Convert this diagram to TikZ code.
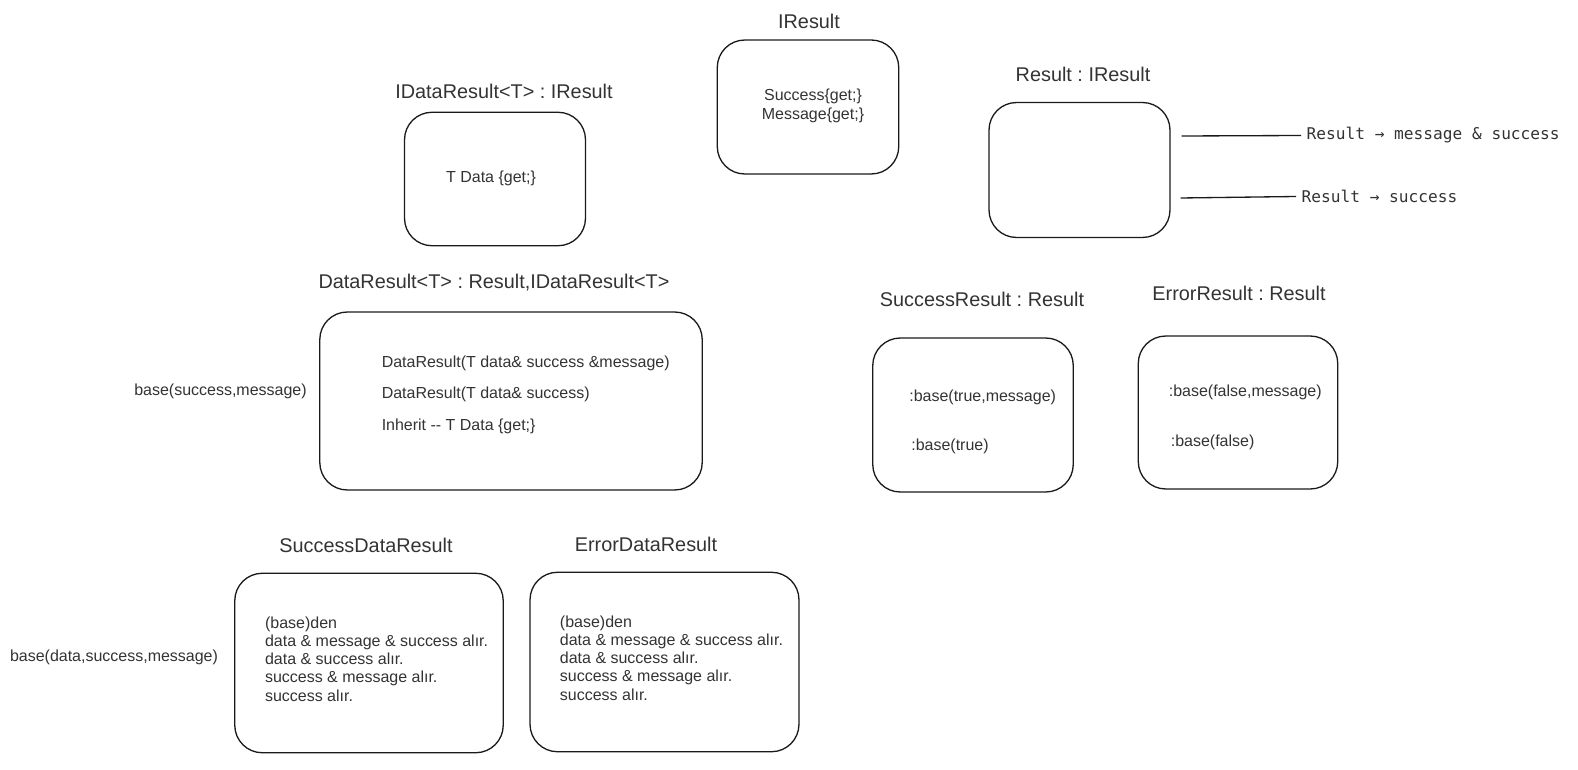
\documentclass[tikz,border=0pt]{standalone}
\usepackage{fontspec}
\setmainfont{Liberation Sans}
\newfontfamily\codefont{DejaVu Sans Mono}
\usepackage{tikz}
\usetikzlibrary{positioning}
\definecolor{BoxLine}{HTML}{1A1A1A}
\definecolor{BoxText}{HTML}{333333}
\frenchspacing

\begin{document}
\begin{tikzpicture}[x=0.02cm,y=-0.02cm,
		classbox/.style={draw=BoxLine,line width=0.75pt,rounded corners=0.55cm,inner sep=0pt},
		classname/.style={text=BoxText,font=\fontsize{11.3}{13.5}\selectfont,inner sep=0pt},
		member/.style={text=BoxText,font=\fontsize{9.1}{10.4}\selectfont,inner sep=0pt,anchor=west,align=left},
		note/.style={text=BoxText,font=\codefont\fontsize{9.2}{11}\selectfont,inner sep=3pt,anchor=west}]
		\useasboundingbox (0,0) rectangle (1578,770);
		\node[classbox,minimum width=3.63cm,minimum height=2.68cm] (iresult) at (808,107) {};
		\node[classbox,minimum width=3.62cm,minimum height=2.67cm] (idata) at (495,179) {};
		\node[classbox,minimum width=3.62cm,minimum height=2.70cm] (result) at (1079.5,170) {};
		\node[classbox,minimum width=7.65cm,minimum height=3.56cm] (dataresult) at (511,401) {};
		\node[classbox,minimum width=4.01cm,minimum height=3.08cm] (successresult) at (973,415) {};
		\node[classbox,minimum width=3.99cm,minimum height=3.06cm] (errorresult) at (1238,412.5) {};
		\node[classbox,minimum width=5.37cm,minimum height=3.59cm] (successdata) at (369,663) {};
		\node[classbox,minimum width=5.38cm,minimum height=3.59cm] (errordata) at (664.5,662) {};
		\node[classname] (iresultname) at (809,21) {IResult};
		\node[classname] (idataname) at (504,91) {IDataResult<T> : IResult};
		\node[classname] (resultname) at (1083,74.5) {Result : IResult};
		\node[classname] (dataresultname) at (494,283) {DataResult<T> : Result,IDataResult<T>};
		\node[classname] (successresultname) at (982,299) {SuccessResult : Result};
		\node[classname] (errorresultname) at (1239,293) {ErrorResult : Result};
		\node[classname] (successdataname) at (366,545.5) {SuccessDataResult};
		\node[classname] (errordataname) at (646,544.5) {ErrorDataResult};
		\node[member,anchor=center,align=center,font=\fontsize{9.1}{10.8}\selectfont] (iresultbody) at (813,106) {Success\{get;\}\\Message\{get;\}};
		\node[member,anchor=center] (idatabody) at (491,178.5) {T Data \{get;\}};
		\node[member] (ctorfull) at (381.4,363) {DataResult(T data\& success \&message)};
		\node[member] (ctorshort) at (381.4,394.5) {DataResult(T data\& success)};
		\node[member] (inherit) at (381.4,426) {Inherit -{}- T Data \{get;\}};
		\node[member,anchor=center] (basedata) at (220.5,391) {base(success,message)};
		\node[member] (truemsg) at (909,397.5) {:base(true,message)};
		\node[member] (trueonly) at (911,446) {:base(true)};
		\node[member] (falsemsg) at (1168.5,392.5) {:base(false,message)};
		\node[member] (falseonly) at (1170.5,442) {:base(false)};
		\node[member] (successdatabody) at (264.7,659) {(base)den\\data \& message \& success alır.\\data \& success alır.\\success \& message alır.\\success alır.};
		\node[member] (errordatabody) at (559.6,658) {(base)den\\data \& message \& success alır.\\data \& success alır.\\success \& message alır.\\success alır.};
		\node[member,anchor=center] (basefull) at (114,657) {base(data,success,message)};
		\node[note] (msgnote) at (1301,135.5) {Result → message \& success};
		\node[note] (succnote) at (1296,196.5) {Result → success};
		\coordinate (msgstart) at (1181.5,136);
		\coordinate (succstart) at (1180.5,198);
		\draw[BoxLine,line width=0.75pt] (msgstart) -- (msgnote.west);
		\draw[BoxLine,line width=0.75pt] (succstart) -- (succnote.west);
	\end{tikzpicture}
\end{document}
